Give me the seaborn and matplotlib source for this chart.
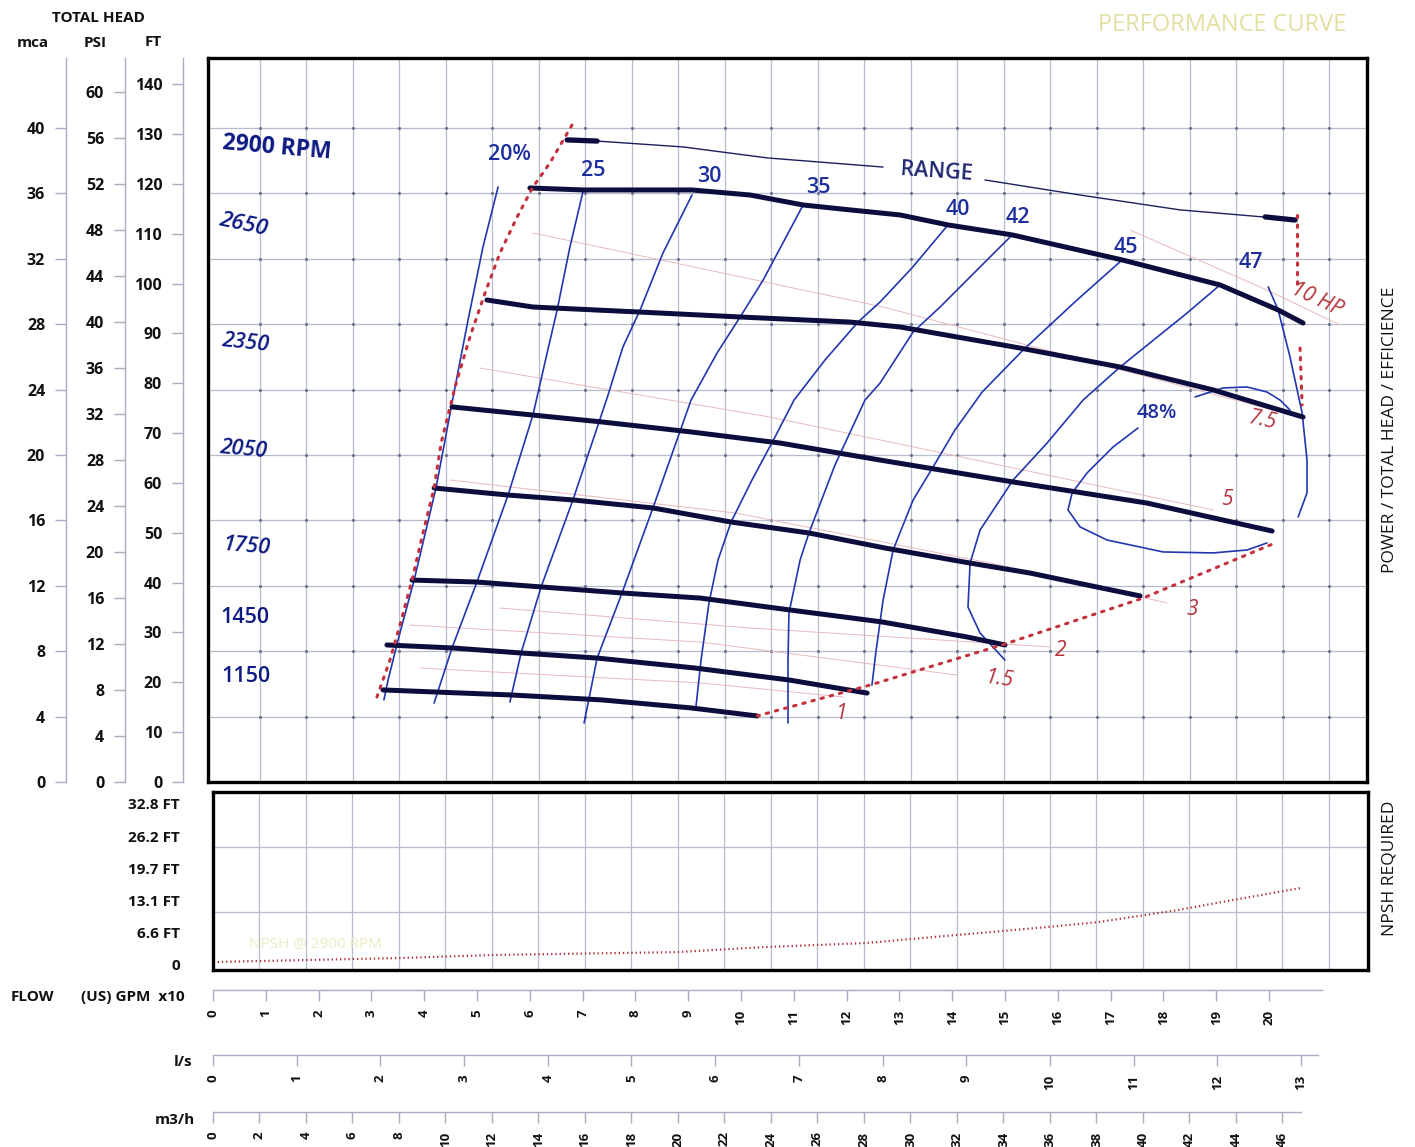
import numpy as np
import pandas as pd
import matplotlib
matplotlib.use("Agg")
import matplotlib.pyplot as plt
import seaborn as sns

# ---------------------------------------------------------------
# Pump performance data: flow in m3/h, head in metres (mca)
# ---------------------------------------------------------------
rpm_labels = ["2900", "2650", "2350", "2050", "1750", "1450", "1150"]

q_2900 = [13.63, 15.91, 20.60, 23.10, 25.38, 27.40, 29.55, 31.61, 34.37, 39.10, 43.31, 45.81, 46.88]
h_2900 = [36.33, 36.21, 36.21, 35.90, 35.29, 34.99, 34.68, 34.07, 33.46, 31.93, 30.40, 28.87, 28.07]
q_2650 = [11.78, 13.76, 18.24, 22.67, 27.40, 29.55, 34.71, 39.01, 43.01, 46.88]
h_2650 = [29.48, 29.05, 28.75, 28.44, 28.13, 27.83, 26.54, 25.38, 23.98, 22.32]
q_2350 = [10.28, 12.86, 16.73, 20.56, 24.39, 28.69, 34.41, 40.17, 45.55]
h_2350 = [22.94, 22.57, 22.02, 21.41, 20.73, 19.69, 18.35, 17.06, 15.35]
q_2050 = [9.51, 12.69, 15.48, 18.92, 22.28, 25.63, 28.90, 32.56, 35.14, 37.59, 39.87]
h_2050 = [17.98, 17.55, 17.25, 16.76, 15.90, 15.23, 14.31, 13.39, 12.78, 12.05, 11.38]
q_1750 = [8.56, 11.35, 14.11, 17.59, 20.95, 24.82, 28.77, 32.43, 34.06]
h_1750 = [12.35, 12.23, 11.93, 11.56, 11.25, 10.52, 9.79, 8.87, 8.38]
q_1450 = [7.48, 10.28, 13.25, 16.52, 20.73, 24.77, 28.13]
h_1450 = [8.38, 8.20, 7.89, 7.58, 6.97, 6.24, 5.44]
q_1150 = [7.31, 12.86, 16.73, 20.56, 23.40]
h_1150 = [5.63, 5.32, 5.02, 4.53, 4.04]

# iso-efficiency lines
eff_20_q = [12.26, 11.61, 10.97, 10.41, 9.98, 9.59, 8.65, 7.96, 7.53, 7.35]
eff_20_h = [36.39, 32.72, 28.26, 24.16, 20.92, 17.98, 12.35, 8.69, 6.24, 5.02]
eff_25_q = [15.91, 15.35, 14.80, 14.37, 13.76, 12.69, 11.35, 10.28, 9.51]
eff_25_h = [36.09, 32.72, 28.87, 26.24, 22.45, 17.55, 12.23, 8.20, 4.83]
eff_30_q = [20.60, 19.35, 18.37, 17.63, 16.99, 15.48, 14.11, 13.25, 12.77]
eff_30_h = [35.90, 32.35, 28.87, 26.61, 23.67, 17.25, 11.93, 7.89, 4.89]
eff_35_q = [25.38, 23.66, 22.67, 21.68, 20.56, 18.92, 17.59, 16.52, 15.96]
eff_35_h = [35.29, 30.70, 28.44, 26.24, 23.36, 16.76, 11.56, 7.58, 3.61]
eff_40_q = [31.61, 30.06, 28.69, 27.74, 26.32, 24.99, 24.17, 23.18, 22.28, 21.72, 21.33, 20.99, 20.77]
eff_40_h = [34.07, 31.44, 29.36, 28.13, 25.81, 23.36, 21.10, 18.47, 15.90, 13.58, 10.95, 7.46, 4.59]
eff_42_q = [34.37, 32.56, 31.27, 30.11, 28.69, 28.04, 26.75, 25.63, 25.25, 24.77, 24.73, 24.73]
eff_42_h = [33.46, 30.89, 29.05, 27.52, 24.40, 23.36, 19.39, 15.23, 13.58, 10.34, 7.46, 3.61]
eff_45_q = [39.10, 37.16, 34.84, 33.08, 31.91, 30.97, 30.11, 29.25, 28.82, 28.52, 28.34]
eff_45_h = [31.93, 29.48, 26.42, 23.85, 21.53, 19.27, 17.25, 14.19, 11.13, 8.07, 5.93]
eff_47_q = [43.31, 41.89, 39.01, 37.42, 35.87, 34.41, 32.99, 32.56, 32.47, 32.99, 34.06]
eff_47_h = [30.40, 28.68, 25.38, 23.36, 20.73, 18.47, 15.41, 13.39, 10.70, 9.11, 7.46]
eff_47_edge_q = [45.38, 45.81, 46.32, 46.84, 47.05, 47.05, 46.67]
eff_47_edge_h = [30.28, 28.87, 25.99, 22.57, 19.69, 17.68, 16.21]
eff_48_q = [39.78, 38.71, 37.59, 36.95, 36.77, 37.29, 38.45, 40.86, 43.01, 44.47, 45.33]
eff_48_h = [21.65, 20.49, 18.90, 17.68, 16.64, 15.60, 14.80, 14.07, 14.01, 14.19, 14.62]
eff_48_arc_q = [42.24, 43.44, 44.47, 45.33, 45.89, 46.32]
eff_48_arc_h = [23.55, 24.10, 24.16, 23.85, 23.36, 22.75]

# shaft power lines (HP)
hp_labels = ["10 HP", "7.5", "5", "3", "2", "1.5", "1"]
hp10_q, hp10_h = [39.44, 45.33, 48.47], [33.76, 30.09, 27.95]
hp75_q, hp75_h = [13.76, 28.82, 45.59], [33.58, 29.05, 22.75]
hp5_q, hp5_h = [11.48, 23.96, 28.69, 43.01], [25.32, 22.32, 20.92, 16.64]
hp3_q, hp3_h = [10.19, 22.49, 33.85, 41.03], [18.47, 16.45, 13.27, 10.95]
hp2_q, hp2_h = [12.34, 23.10, 36.00], [10.64, 9.42, 8.26]
hp15_q, hp15_h = [8.47, 20.95, 32.00], [9.60, 8.56, 6.54]
hp1_q, hp1_h = [8.90, 20.95, 27.10], [6.97, 6.06, 5.20]

# operating limits
min_flow_q = [15.44, 14.49, 13.76, 13.08, 12.34, 11.70, 11.05, 10.41, 9.81, 9.51, 9.03, 8.56, 8.04, 7.61, 7.05]
min_flow_h = [40.18, 37.86, 36.39, 34.56, 32.35, 29.91, 27.22, 24.16, 20.73, 17.98, 15.23, 12.35, 9.60, 7.46, 5.20]
end_q = [23.40, 28.26, 34.06, 40.00, 45.68]
end_h = [4.04, 5.93, 8.44, 11.25, 14.62]
max_a_q, max_a_h = [46.62, 46.62], [34.68, 30.28]
max_b_q, max_b_h = [46.75, 46.84], [26.54, 23.06]

# RANGE bracket
range_a_q, range_a_h = [16.52, 20.22, 23.83, 28.82], [39.20, 38.84, 38.17, 37.61]
range_b_q, range_b_h = [33.20, 37.29, 41.59, 45.16], [36.82, 35.90, 34.99, 34.56]
cap_a_q, cap_a_h = [15.23, 16.52], [39.27, 39.20]
cap_b_q, cap_b_h = [45.25, 46.54], [34.56, 34.37]

# NPSH required at 2900 rpm (m)
npsh_q = [0.2, 8.0, 12.1, 20.0, 23.6, 28.1, 32.0, 35.9, 38.1, 41.5, 43.4, 46.8]
npsh_h = [0.19, 0.43, 0.62, 0.80, 1.10, 1.36, 1.86, 2.35, 2.66, 3.40, 3.90, 4.77]
npsh_ticks_ft = [0, 6.6, 13.1, 19.7, 26.2, 32.8]

# axis scales
mca_ticks = list(range(0, 41, 4))
psi_ticks = list(range(0, 61, 4))
ft_ticks = list(range(0, 141, 10))
gpm_ticks = list(range(0, 21))
ls_ticks = list(range(0, 14))
m3h_ticks = list(range(0, 47, 2))

M_PER_FT = 0.3048
M_PER_PSI = 0.70307
M3H_PER_GPM10 = 2.27125
M3H_PER_LS = 3.6

# ---------------------------------------------------------------
sns.set_theme(style="white")
plt.rcParams["font.family"] = ["Open Sans", "DejaVu Sans"]

W, H = 1415, 1147
fig = plt.figure(figsize=(W / 100, H / 100), dpi=100)


def fx(px):
    return px / W


def fy(py):
    return 1 - py / H


ax = fig.add_axes([fx(208), fy(782), fx(1367) - fx(208), fy(58) - fy(782)])
ax_n = fig.add_axes([fx(213), fy(970), fx(1368) - fx(213), fy(792) - fy(970)])

navy = "#0c0c3e"
blue = "#2236b0"
red = "#c4303b"
grid_c = "#b7bbcb"
dotted = (0, (0.8, 2.3))

# ---- grid -----------------------------------------------------
ax.set_xticks(np.arange(2, 49, 2))
ax.set_yticks(np.arange(4, 41, 4))
ax.tick_params(length=0, labelbottom=False, labelleft=False)
ax.grid(True, color=grid_c, lw=0.9)
ax.set_axisbelow(True)
gx, gy = np.meshgrid(ax.get_xticks(), ax.get_yticks())
ax.scatter(gx.ravel(), gy.ravel(), s=5, color="#6b7190", linewidths=0, zorder=1)

# ---- power lines ---------------------------------------------
hp_sets = [(hp10_q, hp10_h), (hp75_q, hp75_h), (hp5_q, hp5_h), (hp3_q, hp3_h),
           (hp2_q, hp2_h), (hp15_q, hp15_h), (hp1_q, hp1_h)]
hp_df = pd.concat([pd.DataFrame({"q": q, "h": h, "line": lab})
                   for lab, (q, h) in zip(hp_labels, hp_sets)], ignore_index=True)
sns.lineplot(data=hp_df, x="q", y="h", units="line", estimator=None, sort=False,
             color="#e9b8be", lw=0.7, ax=ax, legend=False, zorder=1.5)

# ---- efficiency lines ----------------------------------------
eff_sets = {
    "20": (eff_20_q, eff_20_h), "25": (eff_25_q, eff_25_h), "30": (eff_30_q, eff_30_h),
    "35": (eff_35_q, eff_35_h), "40": (eff_40_q, eff_40_h), "42": (eff_42_q, eff_42_h),
    "45": (eff_45_q, eff_45_h), "47": (eff_47_q, eff_47_h), "47b": (eff_47_edge_q, eff_47_edge_h),
    "48": (eff_48_q, eff_48_h), "48b": (eff_48_arc_q, eff_48_arc_h),
}
eff_df = pd.concat([pd.DataFrame({"q": q, "h": h, "line": k})
                    for k, (q, h) in eff_sets.items()], ignore_index=True)
sns.lineplot(data=eff_df, x="q", y="h", units="line", estimator=None, sort=False,
             color=blue, lw=1.2, ax=ax, legend=False, zorder=2)

# ---- speed curves ---------------------------------------------
rpm_sets = [(q_2900, h_2900), (q_2650, h_2650), (q_2350, h_2350), (q_2050, h_2050),
            (q_1750, h_1750), (q_1450, h_1450), (q_1150, h_1150)]
rpm_df = pd.concat([pd.DataFrame({"q": q, "h": h, "rpm": r})
                    for r, (q, h) in zip(rpm_labels, rpm_sets)], ignore_index=True)
sns.lineplot(data=rpm_df, x="q", y="h", units="rpm", estimator=None, sort=False,
             color=navy, lw=3.6, ax=ax, legend=False, zorder=3)

# ---- limits (dotted) ------------------------------------------
for q, h in [(min_flow_q, min_flow_h), (end_q, end_h), (max_a_q, max_a_h), (max_b_q, max_b_h)]:
    ax.plot(q, h, color=red, lw=2.2, ls=dotted, dash_capstyle="round", zorder=4)

# ---- RANGE bracket --------------------------------------------
ax.plot(range_a_q, range_a_h, color="#1b1f5c", lw=1.0, zorder=3)
ax.plot(range_b_q, range_b_h, color="#1b1f5c", lw=1.0, zorder=3)
ax.plot(cap_a_q, cap_a_h, color=navy, lw=3.8, zorder=3)
ax.plot(cap_b_q, cap_b_h, color=navy, lw=3.8, zorder=3)
ax.text(31.1, 37.3, "RANGE", color="#1d2470", fontsize=15.5, rotation=-4,
        fontweight="semibold", ha="center", va="center", zorder=5)

# ---- labels ---------------------------------------------------
rpm_text_pos = [(2.75, 38.78, -5, "normal", 16.5), (1.29, 34.07, -12, "italic", 16),
                (1.38, 26.85, -6, "italic", 15.5), (1.29, 20.31, -5, "italic", 15.5),
                (1.46, 14.37, -5, "italic", 15.5), (1.38, 10.09, 0, "normal", 15.5),
                (1.42, 6.48, 0, "normal", 15.5)]
for lab, (x, y, rot, sty, fs) in zip(rpm_labels, rpm_text_pos):
    txt = lab + " RPM" if lab == "2900" else lab
    ax.text(x, y, txt, color="#0d1a82", fontsize=fs, rotation=rot, style=sty,
            ha="center", va="center", zorder=5,
            fontweight="bold" if lab == "2900" else "semibold")

eff_text = [("20%", 12.77, 38.35), ("25", 16.34, 37.43), ("30", 21.33, 37.06),
            ("35", 26.02, 36.33), ("40", 32.04, 34.99), ("42", 34.62, 34.50),
            ("45", 39.27, 32.72), ("47", 44.65, 31.80), ("48%", 40.60, 22.57)]
for txt, x, y in eff_text:
    ax.text(x, y, txt, color="#1d2f9e", fontsize=15.5 if txt != "48%" else 14.5,
            fontweight="semibold", ha="center", va="center", zorder=5)

hp_text_pos = [(47.48, 29.48, -25), (45.12, 22.08, -12), (43.61, 17.25, 0), (42.11, 10.52, 0),
               (36.47, 8.07, 0), (33.85, 6.24, -8), (27.05, 4.22, 0)]
for txt, (x, y, rot) in zip(hp_labels, hp_text_pos):
    ax.text(x, y, txt, color="#b5333b", fontsize=15, style="italic", rotation=rot,
            ha="center", va="center", zorder=5)

ax.set_xlim(-0.215, 49.63)
ax.set_ylim(0, 44.28)
ax.set_xlabel("")
ax.set_ylabel("")
for s in ax.spines.values():
    s.set_visible(True)
    s.set_color("black")
    s.set_linewidth(2.4)

# ---- head scales on the left -----------------------------------
axis_c = "#a9adc0"
head_scales = [
    ((66 - 208) / 1159, None, mca_ticks),
    ((125 - 208) / 1159, (lambda m: m / M_PER_PSI, lambda p: p * M_PER_PSI), psi_ticks),
    ((183 - 208) / 1159, (lambda m: m / M_PER_FT, lambda f: f * M_PER_FT), ft_ticks),
]
for loc, funcs, ticks in head_scales:
    sec = ax.secondary_yaxis(loc, functions=funcs) if funcs else ax.secondary_yaxis(loc)
    sec.set_yticks(ticks, labels=[str(t) for t in ticks], fontweight="bold",
                   fontsize=11.5, color="#111111")
    sec.tick_params(axis="y", direction="out", length=8, width=1, color=axis_c, pad=7)
    for s in sec.spines.values():
        s.set_color(axis_c)
        s.set_linewidth(1)

# ---- NPSH panel ----------------------------------------------
ax_n.plot(npsh_q, npsh_h, color="#b0303c", lw=1.6, ls=(0, (0.6, 1.3)), zorder=3)
ax_n.set_xticks(np.arange(2, 49, 2))
ax_n.set_yticks([f * M_PER_FT for f in npsh_ticks_ft],
                labels=[("0" if f == 0 else f"{f} FT") for f in npsh_ticks_ft],
                fontweight="bold", fontsize=11, color="#111111")
ax_n.set_yticks([3.28, 7.31], minor=True)
ax_n.grid(True, axis="x", which="major", color=grid_c, lw=0.9)
ax_n.grid(True, axis="y", which="minor", color=grid_c, lw=0.9)
ax_n.tick_params(axis="y", which="both", length=0, pad=24)
ax_n.tick_params(axis="x", length=0, labelbottom=False)
ax_n.set_xlim(0, 49.68)
ax_n.set_ylim(-0.31, 10.71)
for s in ax_n.spines.values():
    s.set_visible(True)
    s.set_color("black")
    s.set_linewidth(2.4)
ax_n.text(4.4, 1.25, "NPSH @ 2900 RPM", color="#ecebc4", fontsize=11, ha="center", va="center")

# ---- flow scales at the bottom ---------------------------------
flow_scales = [
    (-20 / 178, (lambda q: q / M3H_PER_GPM10, lambda g: g * M3H_PER_GPM10), gpm_ticks, 21.0),
    (-85 / 178, (lambda q: q / M3H_PER_LS, lambda l: l * M3H_PER_LS), ls_ticks, 13.2),
    (-142 / 178, (lambda q: q, lambda q: q), m3h_ticks, 46.8),
]
for loc, funcs, ticks, end in flow_scales:
    sec = ax_n.secondary_xaxis(loc, functions=funcs)
    sec.set_xticks(ticks, labels=[str(t) for t in ticks], fontweight="bold",
                   fontsize=9.5, rotation=90, color="#111111")
    sec.tick_params(axis="x", direction="out", length=8, width=1, color=axis_c, pad=6)
    for s in sec.spines.values():
        s.set_color(axis_c)
        s.set_linewidth(1)
    sec.spines["bottom"].set_bounds(0, end)

# ---- captions ---------------------------------------------------
cap = dict(fontweight="bold", fontsize=11, color="#111111", ha="center", va="center")
fig.text(fx(98), fy(18), "TOTAL HEAD", **cap)
fig.text(fx(33), fy(43), "mca", **cap)
fig.text(fx(95), fy(43), "PSI", **cap)
fig.text(fx(153), fy(42), "FT", **cap)
fig.text(fx(32), fy(997), "FLOW", **cap)
fig.text(fx(133), fy(997), "(US) GPM  x10", **cap)
fig.text(fx(183), fy(1062), "l/s", **cap)
fig.text(fx(175), fy(1120), "m3/h", **cap)
fig.text(fx(1222), fy(25), "PERFORMANCE CURVE", color="#e2e0a0", fontsize=17,
         ha="center", va="center")
fig.text(fx(1390), fy(430), "POWER / TOTAL HEAD / EFFICIENCE", rotation=90,
         fontsize=12.5, color="#111111", ha="center", va="center")
fig.text(fx(1390), fy(868), "NPSH REQUIRED", rotation=90,
         fontsize=12.5, color="#111111", ha="center", va="center")

fig.savefig("out.png", dpi=100, facecolor="white")
